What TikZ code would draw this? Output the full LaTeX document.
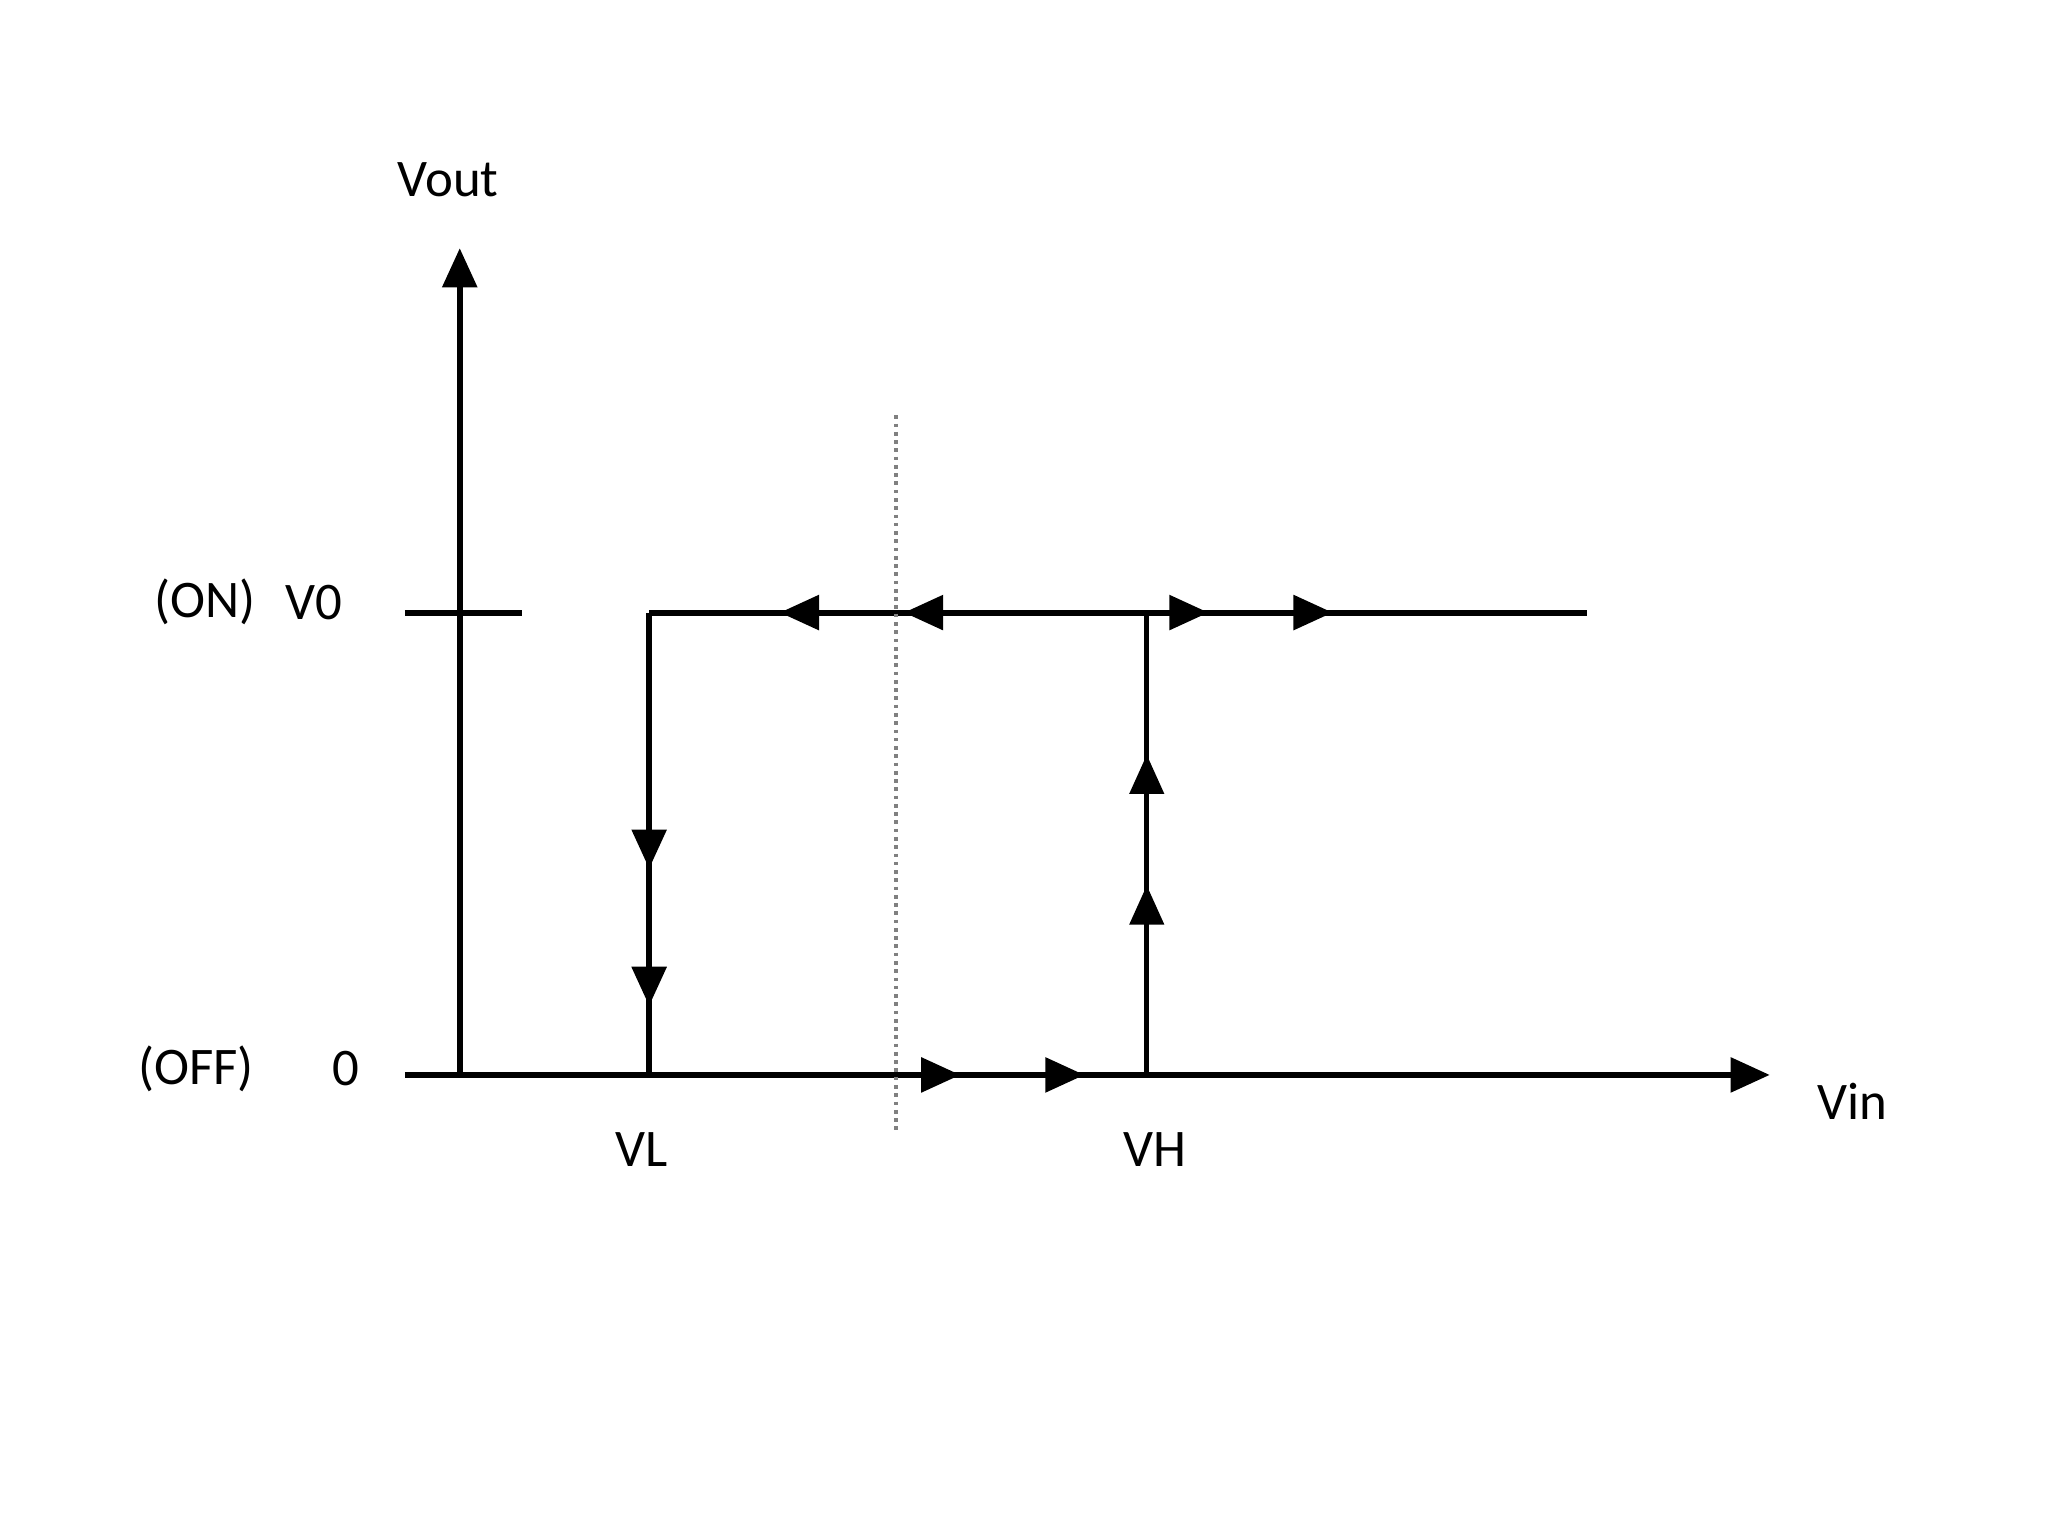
\documentclass[tikz,border=0pt]{standalone}
\usepackage{fontspec}
\setmainfont{Carlito}
\usetikzlibrary{arrows.meta,decorations.markings}
\begin{document}
\begin{tikzpicture}[x=0.01cm,y=-0.01cm,
  ln/.style={line width=1.3pt},
  tip/.style={Triangle[length=3mm,width=2.6mm]},
  lbl/.style={font=\fontsize{11.5}{13}\selectfont,inner sep=0pt},
  marks/.style={postaction={decorate},decoration={markings,#1}}]
\useasboundingbox (0,0) rectangle (1568,1176);
\coordinate (o) at (352,823);
\coordinate (ytop) at (352,190);
\coordinate (xl) at (310,823);
\coordinate (xr) at (1355,823);
\coordinate (t1) at (310,469);
\coordinate (t2) at (400,469);
\coordinate (a) at (497,469);
\coordinate (b) at (1215,469);
\coordinate (c) at (497,823);
\coordinate (d) at (878,823);
\coordinate (e) at (878,469);
\coordinate (p) at (686,318);
\coordinate (q) at (686,868);
\draw[ln,-{Triangle[length=3mm,width=2.6mm]}] (o) -- (ytop);
\draw[ln,-{Triangle[length=3mm,width=2.6mm]},marks={mark=at position 4.25cm with {\arrow{Triangle[length=3mm,width=2.6mm]}},mark=at position 5.2cm with {\arrow{Triangle[length=3mm,width=2.6mm]}}}] (xl) -- (xr);
\draw[ln] (t1) -- (t2);
\draw[ln,marks={mark=at position 1.3cm with {\arrow{Triangle[length=3mm,width=2.6mm,reversed]}},mark=at position 2.25cm with {\arrow{Triangle[length=3mm,width=2.6mm,reversed]}},mark=at position 4.28cm with {\arrow{Triangle[length=3mm,width=2.6mm]}},mark=at position 5.23cm with {\arrow{Triangle[length=3mm,width=2.6mm]}}}] (a) -- (b);
\draw[ln,marks={mark=at position 1.96cm with {\arrow{Triangle[length=3mm,width=2.6mm]}},mark=at position 3.01cm with {\arrow{Triangle[length=3mm,width=2.6mm]}}}] (a) -- (c);
\draw[line width=1pt,marks={mark=at position 1.45cm with {\arrow{Triangle[length=3mm,width=2.6mm]}},mark=at position 2.45cm with {\arrow{Triangle[length=3mm,width=2.6mm]}}}] (d) -- (e);
\draw[gray,densely dotted,line width=0.8pt] (p) -- (q);
\node[lbl] (vout) at (343,138) {Vout};
\node[lbl] (on) at (157,461) {(ON)};
\node[lbl] (v0) at (240,461) {V0};
\node[lbl] (off) at (150,818) {(OFF)};
\node[lbl] (z) at (265,818) {0};
\node[lbl] (vl) at (491,880) {VL};
\node[lbl] (vh) at (884,880) {VH};
\node[lbl] (vin) at (1418,843) {Vin};
\end{tikzpicture}
\end{document}
